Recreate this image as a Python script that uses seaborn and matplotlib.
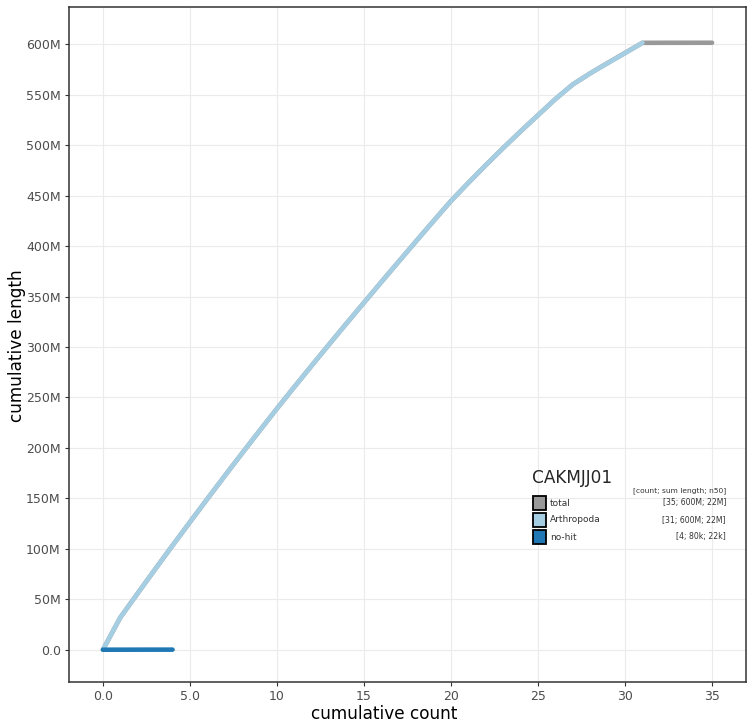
import numpy as np
import pandas as pd
import matplotlib
matplotlib.use("Agg")
import matplotlib.pyplot as plt
import seaborn as sns
from matplotlib.patches import Rectangle

# ---- data (lengths in Mb of each scaffold, sorted by size) ----
arthropoda_lengths = [32, 24, 23.8, 23.5, 23.2, 23, 22.8, 22.5, 22.2, 22,
                      21.5, 21.2, 21, 20.8, 20.5, 20.5, 20.3, 20.2, 20, 19.8,
                      18, 17.5, 17, 16.5, 16, 16, 14.5, 11, 10, 10, 10.2]
nohit_lengths = [0.03, 0.022, 0.016, 0.012]

series_names = ["total", "Arthropoda", "no-hit"]
series_colors = ["#999999", "#a6cee3", "#1f78b4"]
legend_values = ["[35; 600M; 22M]", "[31; 600M; 22M]", "[4; 80k; 22k]"]
legend_title = "CAKMJJ01"

x_ticks = [0, 5, 10, 15, 20, 25, 30, 35]
x_ticklabels = ["0.0", "5.0", "10", "15", "20", "25", "30", "35"]
y_ticks = list(range(0, 601, 50))
y_ticklabels = ["0.0"] + [f"{v}M" for v in range(50, 601, 50)]


def cumulative(lengths):
    return pd.DataFrame({"count": np.arange(0, len(lengths) + 1),
                         "length": np.concatenate([[0], np.cumsum(lengths)])})


total = sorted(arthropoda_lengths + nohit_lengths, reverse=True)
frames = {"total": cumulative(total),
          "Arthropoda": cumulative(arthropoda_lengths),
          "no-hit": cumulative(nohit_lengths)}

sns.set_theme(style="white")
fig = plt.figure(figsize=(7.52, 7.27), dpi=100)
ax = fig.add_axes([69 / 752, 1 - 682 / 727, (746 - 69) / 752, (682 - 7) / 727])

for name, color in zip(series_names, series_colors):
    sns.lineplot(data=frames[name], x="count", y="length", ax=ax, color=color,
                 linewidth=3.3, solid_capstyle="round", solid_joinstyle="round",
                 estimator=None, sort=False)

ax.set_xlim(-1.95, 36.95)
ax.set_ylim(-32, 637)
ax.set_xticks(x_ticks)
ax.set_xticklabels(x_ticklabels)
ax.set_yticks(y_ticks)
ax.set_yticklabels(y_ticklabels)
ax.grid(True, color="#ebebeb", linewidth=0.8)
ax.set_axisbelow(True)
for s in ax.spines.values():
    s.set_color("#333333")
    s.set_linewidth(1.1)
ax.tick_params(axis="both", length=3, width=0.8, color="#333333",
               labelsize=9, labelcolor="#4d4d4d", pad=3, bottom=True, left=True)
ax.set_xlabel("cumulative count", fontsize=12.2, color="black")
ax.set_ylabel("cumulative length", fontsize=12.2, color="black")
ax.xaxis.set_label_coords((384 - 69) / 677, -(705 - 682) / 675)
ax.yaxis.set_label_coords(-(69 - 26) / 677, (682 - 346) / 675)

# ---- legend drawn manually in figure pixels ----
W, H = 752, 727
def fx(px):
    return px / W
def fy(py):
    return 1 - py / H

fig.text(fx(532), fy(478), legend_title, fontsize=12.2, va="center", ha="left")
fig.text(fx(726), fy(491), "[count; sum length; n50]", fontsize=5.4,
         va="center", ha="right", color="#333333")
rows_y = [503, 520, 537]
for name, color, val, py in zip(series_names, series_colors, legend_values, rows_y):
    fig.patches.append(Rectangle((fx(533), fy(py + 7)), 13 / W, 14 / H,
                                 transform=fig.transFigure, facecolor=color,
                                 edgecolor="black", linewidth=1.3))
    fig.text(fx(550), fy(py), name, fontsize=6.5, va="center", ha="left", color="#333333")
    fig.text(fx(726), fy(py), val, fontsize=5.6, va="center", ha="right", color="#333333")

fig.savefig("out.png", dpi=100)
